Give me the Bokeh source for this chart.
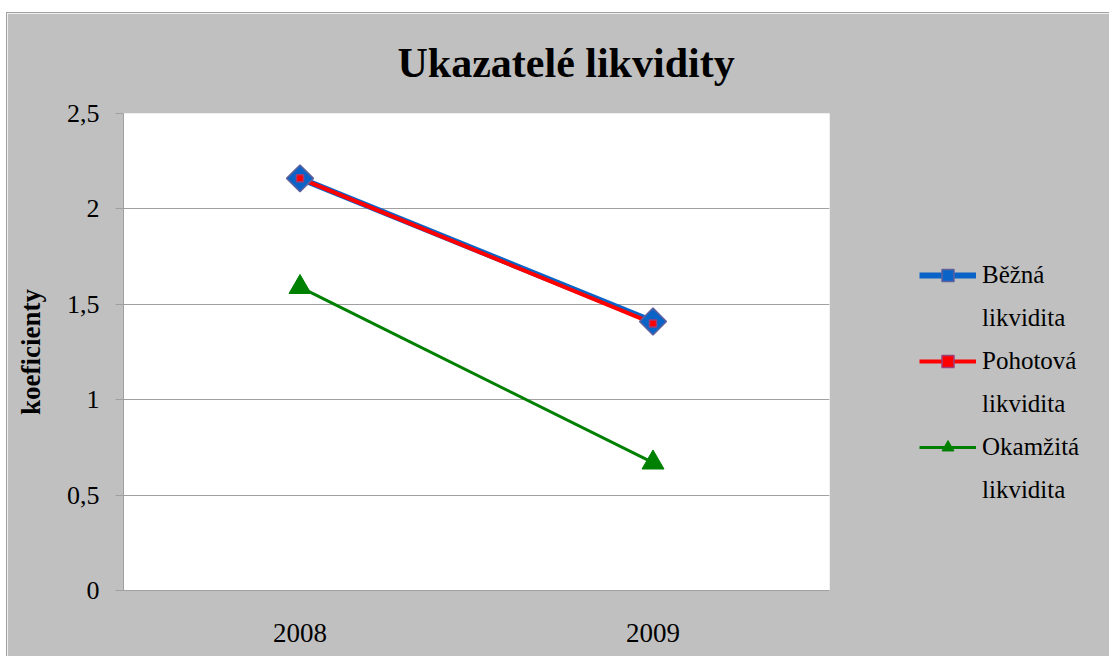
import math
from bokeh.plotting import figure
from bokeh.models import (FixedTicker, CustomJSTickFormatter, Legend, LegendItem,
                          Range1d, FactorRange)
from bokeh.embed import file_html
from bokeh.resources import INLINE

years = ["2008", "2009"]
bezna = [2.16, 1.41]
pohotova = [2.16, 1.40]
okamzita = [1.59, 0.67]
y_ticks = [0, 0.5, 1, 1.5, 2, 2.5]
series_names = ["Běžná", "Pohotová", "Okamžitá"]
series_second_line = "likvidita"
title_text = "Ukazatelé likvidity"
y_label = "koeficienty"

FONT = "Liberation Serif"
BG = "#c0c0c0"

p = figure(x_range=FactorRange(*years), y_range=Range1d(0, 2.5),
           frame_width=706, frame_height=477,
           min_border_left=116, min_border_top=100, min_border_bottom=66, min_border_right=278,
           output_backend="svg", toolbar_location=None,
           background_fill_color="white", border_fill_color=BG,
           outline_line_color=None,
           styles={"border-left": "1px solid #a0a0a0", "border-top": "1px solid #a0a0a0"})
p.margin = (12, 0, 0, 6)

p.title.text = title_text
p.title.text_font = FONT
p.title.text_font_size = "42px"
p.title.text_font_style = "bold"
p.title.text_color = "black"
p.title.vertical_align = "top"
p.title.align = "left"
p.title.offset = 274
p.title.standoff = 52

# axes
p.yaxis.ticker = FixedTicker(ticks=y_ticks)
p.yaxis.formatter = CustomJSTickFormatter(code="return tick.toString().replace('.', ',')")
p.yaxis.axis_label = y_label
p.yaxis.axis_label_text_font = FONT
p.yaxis.axis_label_text_font_style = "bold"
p.yaxis.axis_label_text_font_size = "27px"
p.yaxis.axis_label_text_color = "black"
p.yaxis.axis_label_standoff = 18
p.yaxis.major_label_text_font = FONT
p.yaxis.major_label_text_font_size = "26px"
p.yaxis.major_label_text_color = "black"
p.yaxis.major_label_standoff = 16
p.yaxis.major_tick_out = 8
p.yaxis.major_tick_in = 0
p.yaxis.minor_tick_out = 0
p.yaxis.minor_tick_in = 0
p.yaxis.axis_line_color = "#a0a0a0"
p.yaxis.major_tick_line_color = "#a0a0a0"

p.xaxis.major_label_text_font = FONT
p.xaxis.major_label_text_font_size = "27px"
p.xaxis.major_label_text_color = "black"
p.xaxis.major_label_standoff = 33
p.xaxis.major_tick_out = 0
p.xaxis.major_tick_in = 0
p.xaxis.axis_line_color = "#a0a0a0"

p.xgrid.grid_line_color = None
p.ygrid.grid_line_color = "#a0a0a0"
p.ygrid.ticker = FixedTicker(ticks=y_ticks)

# series
l1 = p.line(years, bezna, line_color="#0a64c8", line_width=6)
l2 = p.line(years, pohotova, line_color="#ff0000", line_width=4)
l3 = p.line(years, okamzita, line_color="#008000", line_width=3)
m1 = p.scatter(years, bezna, marker="square", angle=math.pi / 4, size=19,
               fill_color="#0a64c8", line_color="#60609c", line_width=1.5)
m2 = p.scatter(years, pohotova, marker="square", size=7, fill_color="#ff0000",
               line_color="#a03c78", line_width=1.5)
m3 = p.scatter(years, okamzita, marker="triangle", size=22, fill_color="#008000",
               line_color="#008000", line_width=1)

# invisible renderer for second label lines
blank = p.line(x=[], y=[], line_alpha=0)

items = []
for name, rs in zip(series_names, [[l1, m1], [l2, m2], [l3, m3]]):
    items.append(LegendItem(label=name, renderers=rs))
    items.append(LegendItem(label=series_second_line, renderers=[blank]))

legend = Legend(items=items, location=(90, 85))
legend.label_text_font = "Liberation Serif, serif"
legend.label_text_font_size = "25px"
legend.label_text_color = "black"
legend.glyph_width = 57
legend.glyph_height = 30
legend.label_height = 30
legend.label_standoff = 6
legend.spacing = 13
legend.padding = 0
legend.margin = 0
legend.border_line_color = None
legend.background_fill_alpha = 0
p.add_layout(legend, "right")

open("out.html", "w").write(file_html(p, INLINE))
